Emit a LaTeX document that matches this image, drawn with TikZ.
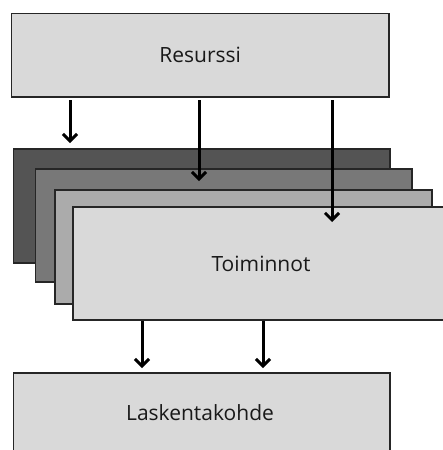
\documentclass[tikz,border=0pt]{standalone}
\usepackage{fontspec}
\setmainfont{Open Sans}
\usetikzlibrary{arrows.meta}
\begin{document}
\begin{tikzpicture}[x=1pt,y=-1pt,
  lbl/.style={font=\fontsize{21}{24}\selectfont,text=black!90},
  blk/.style={draw=black!85,line width=1.8pt,anchor=north west,inner sep=0pt,lbl},
  arr/.style={line width=3pt,-{Straight Barb[length=7pt,width=14pt,line width=3pt]}}]
\path[use as bounding box] (0,0) rectangle (443,450);
\clip (0,0) rectangle (443,450);
\fill[white] (0,0) rectangle (443,450);
% top resource box
\node[blk,fill=black!15,minimum width=377.5pt,minimum height=83.5pt] (res) at (10.5,12.5) {Resurssi};
% stacked activity cards
\node[blk,fill=black!67,minimum width=376.5pt,minimum height=114pt] (c1) at (12.5,148) {};
\node[blk,fill=black!53,minimum width=376.5pt,minimum height=113pt] (c2) at (34.5,168) {};
\node[blk,fill=black!33,minimum width=377pt,minimum height=114pt] (c3) at (54,189) {};
\node[blk,fill=black!15,minimum width=380pt,minimum height=113pt] (c4) at (72,206) {};
\node[lbl] (tl) at (261,264) {Toiminnot};
% cost object box
\node[blk,fill=black!15,minimum width=376.5pt,minimum height=90pt] (cost) at (12.5,372) {};
\node[lbl] (cl) at (200,413) {Laskentakohde};
% arrows from the resource to the activities
\coordinate (s1) at (70,100);   \coordinate (e1) at (70,143);
\coordinate (s2) at (199,100);  \coordinate (e2) at (199,181);
\coordinate (s3) at (332,100);  \coordinate (e3) at (332,222);
\draw[arr] (s1) -- (e1);
\draw[arr] (s2) -- (e2);
\draw[arr] (s3) -- (e3);
% arrows from the activities to the cost object
\coordinate (b1) at (142,368);
\coordinate (b2) at (263,368);
\draw[arr] (c4.south -| b1) -- (b1);
\draw[arr] (c4.south -| b2) -- (b2);
\end{tikzpicture}
\end{document}
